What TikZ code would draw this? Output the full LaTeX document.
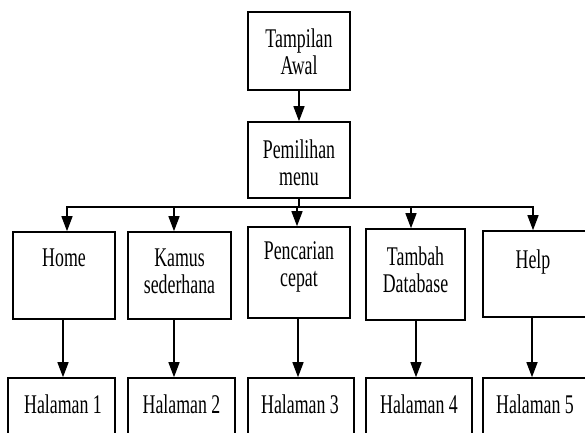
\documentclass[tikz,border=0pt]{standalone}
\usepackage{fontspec}
\setmainfont{Liberation Serif}[FakeStretch=0.66]
\usetikzlibrary{arrows.meta}
\begin{document}
\begin{tikzpicture}[x=1pt,y=-1pt,
  box/.style={draw=black, line width=1.6pt, rectangle, inner sep=0pt},
  txt/.style={anchor=north, inner sep=0pt, align=center, text=black,
    font=\fontsize{27}{27}\selectfont},
  arr/.style={line width=1.4pt, -{Triangle[length=15pt,width=11pt]}},
  ln/.style={line width=1.4pt}]
\clip (0,0) rectangle (585,432);
% boxes
\node[box, minimum width=102pt, minimum height=78pt] (awal)   at (299,51) {};
\node[box, minimum width=102pt, minimum height=76pt] (menu)   at (299,160) {};
\node[box, minimum width=102pt, minimum height=87pt] (home)   at (64,275.5) {};
\node[box, minimum width=103pt, minimum height=87pt] (kamus)  at (179.5,275.5) {};
\node[box, minimum width=102pt, minimum height=91pt] (cari)   at (299,272.5) {};
\node[box, minimum width=99pt,  minimum height=91pt] (tambah) at (415.5,274.5) {};
\node[box, minimum width=108pt, minimum height=86pt] (help)   at (537,274) {};
\node[box, minimum width=107pt, minimum height=72pt] (h1) at (61.5,414) {};
\node[box, minimum width=107pt, minimum height=72pt] (h2) at (181.5,414) {};
\node[box, minimum width=106pt, minimum height=72pt] (h3) at (301,414) {};
\node[box, minimum width=106pt, minimum height=72pt] (h4) at (419,414) {};
\node[box, minimum width=108pt, minimum height=72pt] (h5) at (537,414) {};
% texts
\node[txt] (awalT)   at (299,28.6)   {Tampilan\\Awal};
\node[txt] (menuT)   at (299,139.6)  {Pemilihan\\menu};
\node[txt] (homeT)   at (64,249)     {Home};
\node[txt] (kamusT)  at (179.5,249)  {Kamus\\sederhana};
\node[txt] (cariT)   at (299,241.6)  {Pencarian\\cepat};
\node[txt] (tambahT) at (415.5,246.6){Tambah\\Database};
\node[txt] (helpT)   at (533,249.6)  {Help};
\node[txt] (h1T) at (63,394.6)  {Halaman 1};
\node[txt] (h2T) at (181.5,394.6) {Halaman 2};
\node[txt] (h3T) at (300,394.6) {Halaman 3};
\node[txt] (h4T) at (419,394.6) {Halaman 4};
\node[txt] (h5T) at (535,394.6) {Halaman 5};
% connectors
\draw[arr] (awal.south) -- (menu.north);
\coordinate (bus) at (299,207);
\coordinate (busL) at (67,207);
\coordinate (busR) at (533,207);
\draw[ln] (menu.south) -- (bus);
\draw[ln] ([xshift=-0.7pt]busL) -- ([xshift=0.7pt]busR);
\draw[arr] (bus -| 67,0)  -- (home.north -| 67,0);
\draw[arr] (bus -| 174,0) -- (kamus.north -| 174,0);
\draw[arr] (bus -| 297,0) -- (cari.north -| 297,0);
\draw[arr] (bus -| 411,0) -- (tambah.north -| 411,0);
\draw[arr] (bus -| 533,0) -- (help.north -| 533,0);
\draw[arr] (home.south -| 63,0)   -- (h1.north -| 63,0);
\draw[arr] (kamus.south -| 174,0) -- (h2.north -| 174,0);
\draw[arr] (cari.south -| 298,0)  -- (h3.north -| 298,0);
\draw[arr] (tambah.south -| 416,0) -- (h4.north -| 416,0);
\draw[arr] (help.south -| 532,0)  -- (h5.north -| 532,0);
\end{tikzpicture}
\end{document}
